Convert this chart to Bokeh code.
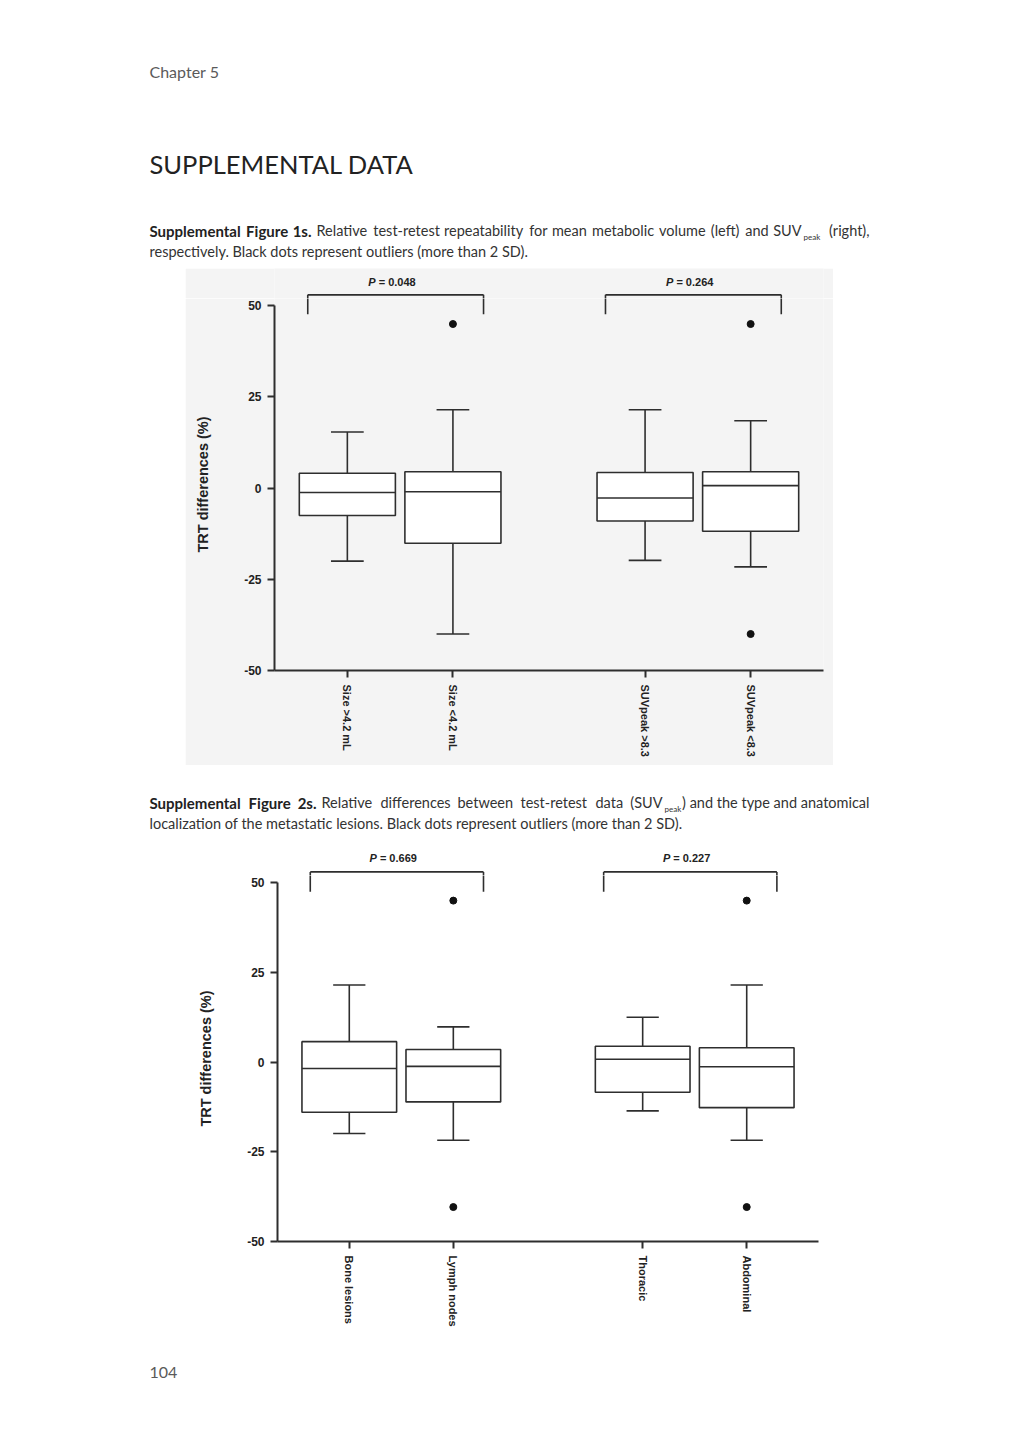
from bokeh.plotting import figure
from bokeh.models import FactorRange, Range1d, Label, FixedTicker, ColumnDataSource, Spacer
from bokeh.layouts import column, row
from bokeh.embed import file_html
from bokeh.resources import INLINE
from bokeh.core.properties import value

# ---------------- data ----------------
fig1_groups = ["volume", "volume", "suv", "suv"]
fig1_categories = ["Size >4.2 mL", "Size <4.2 mL", "SUVpeak >8.3", "SUVpeak <8.3"]
fig1_lower_whisker = [-20.0, -40.0, -19.8, -21.6]
fig1_q1 = [-7.5, -15.1, -9.0, -11.8]
fig1_median = [-1.2, -1.0, -2.7, 0.7]
fig1_q3 = [4.1, 4.5, 4.3, 4.5]
fig1_upper_whisker = [15.4, 21.5, 21.5, 18.5]
fig1_outlier_categories = ["Size <4.2 mL", "SUVpeak <8.3", "SUVpeak <8.3"]
fig1_outlier_values = [45.0, 45.0, -40.0]
fig1_p_values = ["0.048", "0.264"]

fig2_groups = ["type", "type", "location", "location"]
fig2_categories = ["Bone lesions", "Lymph nodes", "Thoracic", "Abdominal"]
fig2_lower_whisker = [-19.9, -21.8, -13.6, -21.8]
fig2_q1 = [-14.0, -11.1, -8.4, -12.7]
fig2_median = [-1.8, -1.2, 0.8, -1.3]
fig2_q3 = [5.7, 3.5, 4.4, 4.0]
fig2_upper_whisker = [21.5, 9.8, 12.5, 21.5]
fig2_outlier_categories = ["Lymph nodes", "Lymph nodes", "Abdominal", "Abdominal"]
fig2_outlier_values = [45.0, -40.4, 45.0, -40.4]
fig2_p_values = ["0.669", "0.227"]

y_ticks = [-50, -25, 0, 25, 50]
y_tick_labels = ["-50", "-25", "0", "25", "50"]
y_axis_title = "TRT differences (%)"

# ---------------- styling ----------------
W = 1015
INK = "#2e2e2e"
CHART_FONT = "Liberation Sans"
PAGE_FONT = "Lato"
BOX_W = 0.91
CAP_HALF = 0.155
CAP_SIZE = 14.5
BOLD_SIZE = 15
Y_SPLIT = 52          # main panel shows -50..52, strip above holds brackets / P values
STRIP_H = 30


def text_fig(height):
    p = figure(width=W, height=height, x_axis_location=None, y_axis_location=None,
               output_backend="svg", toolbar_location=None,
               min_border_left=0, min_border_right=0, min_border_top=0, min_border_bottom=0)
    p.outline_line_color = None
    p.grid.grid_line_color = None
    p.background_fill_color = "white"
    p.border_fill_color = "white"
    return p


def add_text(p, fig_top, fig_h, px, py, text, size, style="normal", color="#333333",
             align="left", font=PAGE_FONT):
    # frame fills the whole canvas; screen y counts up from the bottom
    p.add_layout(Label(x=px, y=fig_h - (py - fig_top), x_units="screen", y_units="screen",
                       text=text, text_font=font, text_font_size=f"{size}px",
                       text_font_style=style, text_color=color, text_align=align,
                       text_baseline="middle"))


def add_words(p, fig_top, fig_h, py, words, xs, size, style="normal", color="#333333",
              last_right=None):
    # justified line: each word placed at its own x
    for i, (w, x) in enumerate(zip(words, xs)):
        align = "left"
        if last_right is not None and i == len(words) - 1:
            align = "right"
            x = last_right
        add_text(p, fig_top, fig_h, x, py, w, size, style=style, color=color, align=align)


def build_chart(groups, cats, lo, q1, med, q3, hi, out_cats, out_vals, pvals,
                width, b_left, b_right, b_bottom, ppu, fill,
                bracket_top, bracket_foot, p_y):
    factors = list(zip(groups, cats))
    cat_group = {c: g for g, c in factors}
    xr = FactorRange(*factors, group_padding=0.82, factor_padding=0,
                     range_padding=0.19, range_padding_units="absolute")
    frame_h = round((Y_SPLIT + 50) * ppu)

    main = figure(width=width, height=frame_h + b_bottom, x_range=xr,
                  y_range=Range1d(-50, Y_SPLIT), output_backend="svg", toolbar_location=None,
                  min_border_left=b_left, min_border_right=b_right,
                  min_border_top=0, min_border_bottom=b_bottom)
    strip = figure(width=width, height=STRIP_H, x_range=xr,
                   y_range=Range1d(Y_SPLIT, Y_SPLIT + STRIP_H / ppu),
                   x_axis_location=None, y_axis_location=None,
                   output_backend="svg", toolbar_location=None,
                   min_border_left=b_left, min_border_right=b_right,
                   min_border_top=0, min_border_bottom=0)
    for p in (main, strip):
        p.outline_line_color = None
        p.grid.grid_line_color = None
        p.background_fill_color = fill
        p.border_fill_color = fill

    src = ColumnDataSource(dict(
        x=factors,
        x_l=[(g, c, -BOX_W / 2) for g, c in factors],
        x_r=[(g, c, BOX_W / 2) for g, c in factors],
        cap_l=[(g, c, -CAP_HALF) for g, c in factors],
        cap_r=[(g, c, CAP_HALF) for g, c in factors],
        lo=lo, q1=q1, med=med, q3=q3, hi=hi))

    lw = 1.6
    main.segment(x0="x", x1="x", y0="q3", y1="hi", source=src, line_color=INK, line_width=lw)
    main.segment(x0="x", x1="x", y0="q1", y1="lo", source=src, line_color=INK, line_width=lw)
    main.segment(x0="cap_l", x1="cap_r", y0="hi", y1="hi", source=src, line_color=INK, line_width=lw)
    main.segment(x0="cap_l", x1="cap_r", y0="lo", y1="lo", source=src, line_color=INK, line_width=lw)
    main.vbar(x="x", width=BOX_W, top="q3", bottom="q1", source=src,
              fill_color="white", line_color=INK, line_width=lw)
    main.segment(x0="x_l", x1="x_r", y0="med", y1="med", source=src, line_color=INK, line_width=lw)

    main.scatter(x=[(cat_group[c], c) for c in out_cats], y=out_vals, marker="circle",
                 size=7, fill_color="#111111", line_color="#111111")

    # significance brackets (drawn in both panels, each clips its own part)
    pairs = [(factors[i], factors[i + 1]) for i in range(0, len(factors), 2)]
    bx0, bx1, by0, by1 = [], [], [], []
    for (g, c1), (_, c2) in pairs:
        left = (g, c1, -0.375)
        right = (g, c2, 0.29)
        bx0 += [left, left, right]
        bx1 += [right, left, right]
        by0 += [bracket_top, bracket_top, bracket_top]
        by1 += [bracket_top, bracket_foot, bracket_foot]
    bsrc = ColumnDataSource(dict(x0=bx0, x1=bx1, y0=by0, y1=by1))
    for p in (main, strip):
        p.segment(x0="x0", x1="x1", y0="y0", y1="y1", source=bsrc, line_color=INK,
                  line_width=1.6)

    mids = [(g, c2, -0.5425) for (g, c1), (_, c2) in pairs]
    strip.text(x=mids, y=[p_y] * len(mids), text=["P"] * len(mids), text_align="right",
               text_baseline="middle", x_offset=-20, text_font=value(CHART_FONT),
               text_font_size="11px", text_font_style="bold italic", text_color="#222222")
    strip.text(x=mids, y=[p_y] * len(mids), text=["= " + v for v in pvals], text_align="left",
               text_baseline="middle", x_offset=-17, text_font=value(CHART_FONT),
               text_font_size="11px", text_font_style="bold", text_color="#222222")

    # axes
    main.yaxis.ticker = FixedTicker(ticks=y_ticks)
    main.yaxis.major_label_overrides = {t: s for t, s in zip(y_ticks, y_tick_labels)}
    main.yaxis.bounds = (-50, 50)
    for ax in (main.xaxis, main.yaxis):
        ax.axis_line_color = INK
        ax.axis_line_width = 2
        ax.major_tick_line_color = INK
        ax.major_tick_line_width = 2
        ax.major_tick_out = 7
        ax.major_tick_in = 0
        ax.minor_tick_line_color = None
        ax.major_label_text_font = CHART_FONT
        ax.major_label_text_font_style = "bold"
        ax.major_label_text_color = "#222222"
    main.yaxis.major_label_text_font_size = "12px"
    main.yaxis.major_label_standoff = 6
    main.xaxis.major_label_text_font_size = "11px"
    main.xaxis.major_label_orientation = "vertical"
    main.xaxis.major_label_standoff = 7
    main.xaxis.group_text_font_size = "1px"
    main.xaxis.group_text_alpha = 0
    main.xaxis.separator_line_alpha = 0

    main.yaxis.axis_label = y_axis_title
    main.yaxis.axis_label_text_font = CHART_FONT
    main.yaxis.axis_label_text_font_size = "14.5px"
    main.yaxis.axis_label_text_font_style = "bold"
    main.yaxis.axis_label_text_color = "#222222"
    main.yaxis.axis_label_standoff = 30
    return column(strip, main, spacing=0)


# ---------------- header (page y 0..268) ----------------
HH = 268
header = text_fig(HH)
add_text(header, 0, HH, 149, 71, "Chapter 5", 16, color="#5a5a5a")
add_text(header, 0, HH, 149, 163, "SUPPLEMENTAL DATA", 25.5, color="#222222")
add_words(header, 0, HH, 230, ["Supplemental", "Figure", "1s."], [149, 245.6, 292],
          BOLD_SIZE, style="bold", color="#222222", last_right=311)
add_words(header, 0, HH, 230,
          ["Relative", "test-retest", "repeatability", "for", "mean", "metabolic", "volume",
           "(left)", "and", "SUV"],
          [316, 372.8, 443.5, 528.7, 551.4, 591.5, 658.5, 710.3, 744.7, 773.4],
          CAP_SIZE, last_right=801)
add_text(header, 0, HH, 803, 236, "peak", 8)
add_text(header, 0, HH, 869, 230, "(right),", CAP_SIZE, align="right")
add_text(header, 0, HH, 149, 251,
         "respectively. Black dots represent outliers (more than 2 SD).", CAP_SIZE)

# ---------------- figure 1 (page x 185..833, y 268..765) ----------------
chart1 = build_chart(fig1_groups, fig1_categories, fig1_lower_whisker, fig1_q1, fig1_median,
                     fig1_q3, fig1_upper_whisker, fig1_outlier_categories, fig1_outlier_values,
                     fig1_p_values, 648, 89, 10, 95, 3.65, "#f4f4f4", 53.0, 47.7, 56.6)

# ---------------- caption 2 (page y 765..845) ----------------
HC = 80
cap2 = text_fig(HC)
add_words(cap2, 765, HC, 802, ["Supplemental", "Figure", "2s."], [149, 248.1, 297],
          BOLD_SIZE, style="bold", color="#222222", last_right=316)
add_words(cap2, 765, HC, 802,
          ["Relative", "differences", "between", "test-retest", "data", "(SUV"],
          [321, 380, 457, 520, 595, 630.5], CAP_SIZE, last_right=662)
add_text(cap2, 765, HC, 664, 808, "peak", 8)
add_text(cap2, 765, HC, 869, 802, ") and the type and anatomical", CAP_SIZE, align="right")
add_text(cap2, 765, HC, 149, 823,
         "localization of the metastatic lesions. Black dots represent outliers (more than 2 SD).",
         CAP_SIZE)

# ---------------- figure 2 (page y 845..1355) ----------------
chart2 = build_chart(fig2_groups, fig2_categories, fig2_lower_whisker, fig2_q1, fig2_median,
                     fig2_q3, fig2_upper_whisker, fig2_outlier_categories, fig2_outlier_values,
                     fig2_p_values, W, 277, W - 818, 113, 3.593, "white", 53.0, 47.5, 56.8)

# ---------------- footer (page y 1355..1395) ----------------
HF = 40
footer = text_fig(HF)
add_text(footer, 1355, HF, 149, 1373, "104", 16, color="#5a5a5a")

layout = column(row(header), row(Spacer(width=185, height=497), chart1, spacing=0), row(cap2),
                row(chart2), row(footer), spacing=0)
open("out.html", "w").write(file_html(layout, INLINE))
